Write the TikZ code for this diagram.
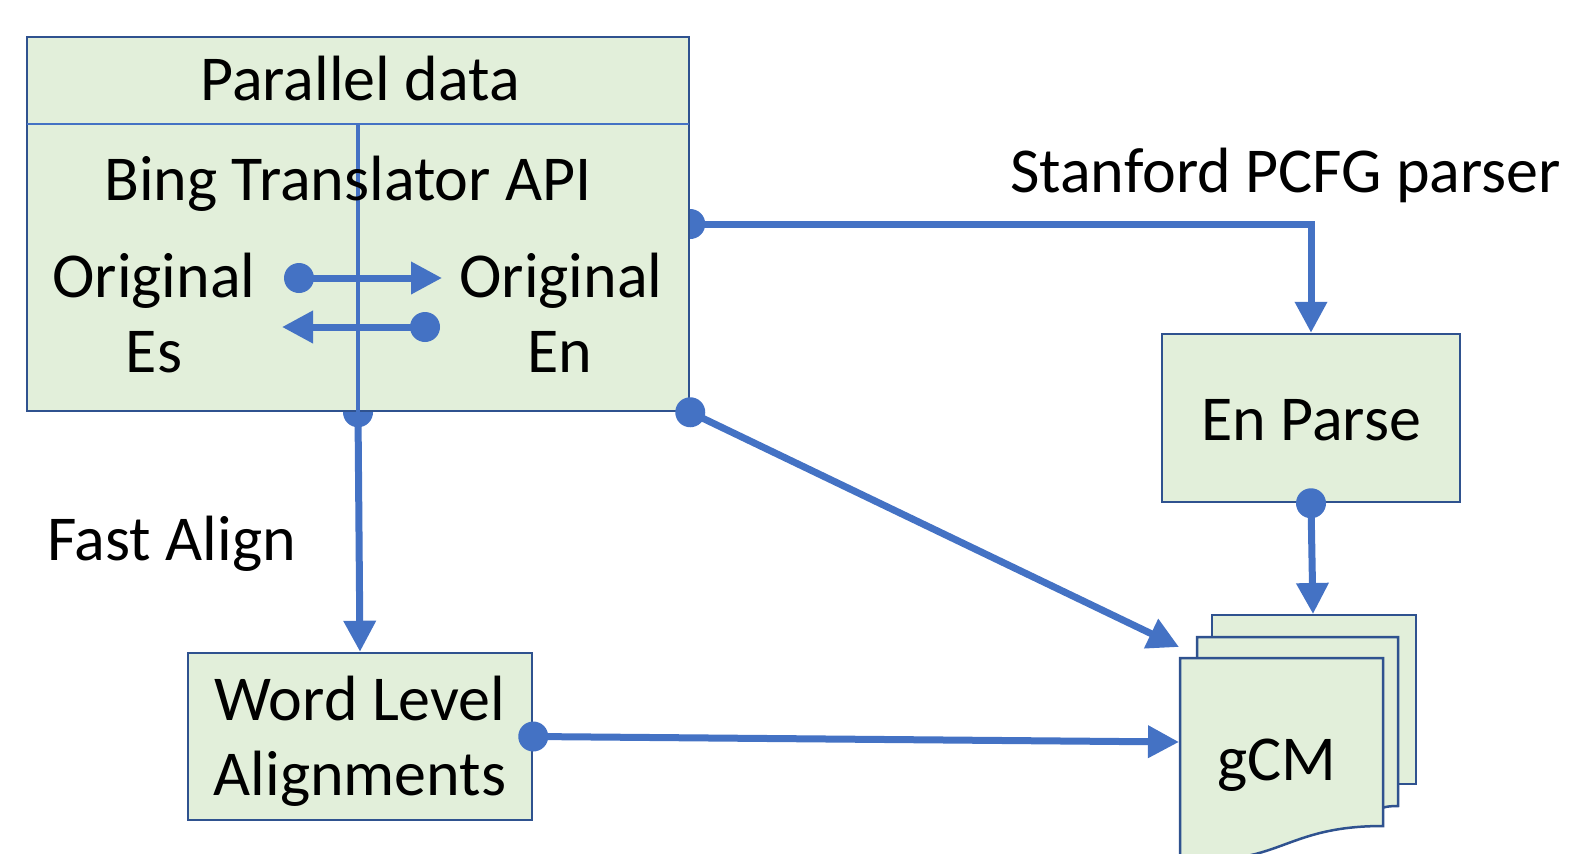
\documentclass[tikz,border=0pt]{standalone}
\usepackage{fontspec}
\setmainfont{Carlito}
\usetikzlibrary{arrows.meta}
\definecolor{abl}{HTML}{4472C4}
\definecolor{bdr}{HTML}{2F528F}
\definecolor{fil}{HTML}{E2EFDA}
\pgfdeclarelayer{background}
\pgfsetlayers{background,main}
\begin{document}
\begin{tikzpicture}[x=1pt,y=-1pt,
  box/.style={draw=bdr, line width=2.5pt, fill=fil, inner sep=0pt},
  page/.style={draw=bdr, line width=2.5pt, fill=fil},
  lbl/.style={anchor=base, inner sep=0pt, font=\fontsize{64}{76}\selectfont},
  conn/.style={draw=abl, line width=7pt, -{Triangle[length=31pt,width=31pt]}},
  dotc/.style={fill=abl}]
\useasboundingbox (0,0) rectangle (1572,854);
\clip (0,0) rectangle (1572,854);

% boxes
\node[box, minimum width=662pt, minimum height=374pt] (pd) at (358,224) {};
\node[box, minimum width=298pt, minimum height=168pt] (ep) at (1311,418) {};
\node[box, minimum width=344pt, minimum height=167pt] (wl) at (360,736.5) {};

% gCM document stack
\path[page] (1212,615) -- (1416,615) -- (1416,784) -- (1212,784) -- cycle;
\path[page] (1197,637) -- (1398,637) -- (1398,806) .. controls (1390,806) and (1383,807) .. (1383,808) -- (1197,808) -- cycle;
\path[page] (1180,658) -- (1383,658) -- (1383,826) .. controls (1281,826) and (1281,868) .. (1180,858) -- cycle;

% inner lines of parallel data box
\draw[abl, line width=2pt] (27,124) -- (689,124);
\draw[abl, line width=3.5pt] (358,124) -- (pd.south);

% labels
\node[lbl] (tpd) at (360,100) {Parallel data};
\node[lbl] (tbing) at (348,200) {Bing Translator API};
\node[lbl] (toes1) at (154,297) {Original};
\node[lbl] (toes2) at (154,372) {Es};
\node[lbl] (toen1) at (561,297) {Original};
\node[lbl] (toen2) at (560,372) {En};
\node[lbl, anchor=base west] (tfa) at (47,560) {Fast Align};
\node[lbl, anchor=base west] (tsp) at (1010,192) {Stanford PCFG parser};
\node[lbl] (tep) at (1311,440) {En Parse};
\node[lbl] (twl1) at (360,720) {Word Level};
\node[lbl] (twl2) at (360,795) {Alignments};
\node[lbl] (gcm) at (1277,780) {gCM};

% connectors behind boxes
\begin{pgfonlayer}{background}
\draw[conn] (pd.east) -| (ep.north);
\fill[dotc] (pd.east) circle (15pt);
\draw[conn] (pd.south) -- (wl.north);
\fill[dotc] (pd.south) circle (15pt);
\end{pgfonlayer}

% inner translation arrows
\coordinate (a1s) at (299,278);
\coordinate (a1e) at (442,278);
\coordinate (a2s) at (425,327);
\coordinate (a2e) at (282,327);
\draw[conn] (a1s) -- (a1e);
\fill[dotc] (a1s) circle (15pt);
\draw[conn] (a2s) -- (a2e);
\fill[dotc] (a2s) circle (15pt);

% connectors to gCM
\coordinate (gcmA) at (1179,647);
\coordinate (gcmB) at (1179,742);
\coordinate (gcmC) at (1313,614);
\draw[conn] (pd.south east) -- (gcmA);
\fill[dotc] (pd.south east) circle (15pt);
\draw[conn] (wl.east) -- (gcmB);
\fill[dotc] (wl.east) circle (15pt);
\draw[conn] (ep.south) -- (gcmC);
\fill[dotc] (ep.south) circle (15pt);
\end{tikzpicture}
\end{document}
